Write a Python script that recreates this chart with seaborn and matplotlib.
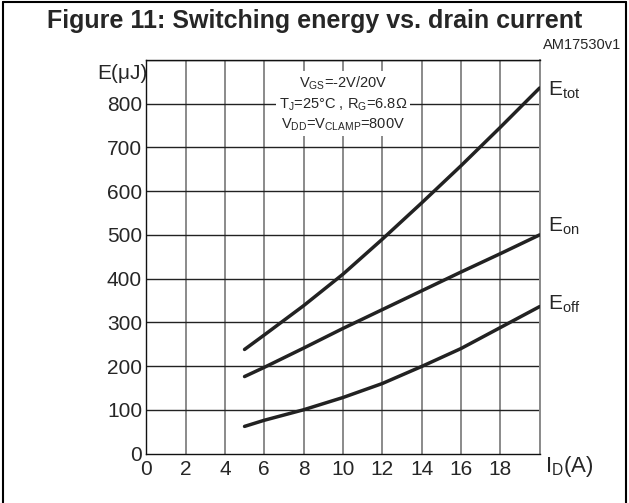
import matplotlib
matplotlib.use("Agg")
import matplotlib.pyplot as plt
import seaborn as sns
import pandas as pd
from matplotlib.lines import Line2D

# values
drain_current = [5, 6, 8, 10, 12, 14, 16, 18, 20]
e_tot = [238, 271, 338, 410, 490, 573, 658, 746, 836]
e_on = [176, 197, 241, 286, 329, 372, 415, 457, 500]
e_off = [62, 76, 100, 128, 160, 199, 240, 288, 336]
x_ticks = [0, 2, 4, 6, 8, 10, 12, 14, 16, 18]
y_ticks = [0, 100, 200, 300, 400, 500, 600, 700, 800]

sns.set_style("white")
plt.rcParams["font.family"] = ["Liberation Sans", "DejaVu Sans"]

df = pd.DataFrame({
    "ID": drain_current * 3,
    "E": e_tot + e_on + e_off,
    "curve": ["tot"] * 9 + ["on"] * 9 + ["off"] * 9,
})

fig = plt.figure(figsize=(6.29, 5.03), dpi=100)
ax = fig.add_axes([0.2324, 0.0984, 0.6255, 0.7823])

sns.lineplot(data=df, x="ID", y="E", units="curve", estimator=None,
             color="#222222", linewidth=2.5, ax=ax, legend=False, zorder=5)

ax.set_xlim(0, 20)
ax.set_ylim(0, 900)
ax.set_xticks(x_ticks)
ax.set_yticks(y_ticks)
ax.set_xticklabels([str(v) for v in x_ticks], fontsize=15)
ax.set_yticklabels([str(v) for v in y_ticks], fontsize=15)
ax.tick_params(axis="y", length=0, pad=3)
ax.tick_params(axis="x", length=0, pad=5)
ax.set_xlabel("")
ax.set_ylabel("")

for v in range(2, 21, 2):
    ax.axvline(v, color="#8a8a8a", linewidth=1.4, zorder=1)
for v in range(100, 901, 100):
    ax.axhline(v, color="#222222", linewidth=1.0, zorder=1)

for side in ["left", "bottom", "top"]:
    ax.spines[side].set_color("#111111")
    ax.spines[side].set_linewidth(1.0)
ax.spines["right"].set_color("#8a8a8a")
ax.spines["right"].set_linewidth(1.4)

# curve labels
ax.text(20.45, 830, r"E$_{\mathregular{tot}}$", fontsize=15, va="center", ha="left")
ax.text(20.45, 520, r"E$_{\mathregular{on}}$", fontsize=15, va="center", ha="left")
ax.text(20.45, 342, r"E$_{\mathregular{off}}$", fontsize=15, va="center", ha="left")

# conditions box
cond = ("V$_{\\mathregular{GS}}$=-2V/20V\n"
        "T$_{\\mathregular{J}}$=25°C , R$_{\\mathregular{G}}$=6.8Ω\n"
        "V$_{\\mathregular{DD}}$=V$_{\\mathregular{CLAMP}}$=800V")
ax.text(10, 800, cond, fontsize=10.5, ha="center", va="center",
        linespacing=1.35, zorder=6,
        bbox=dict(facecolor="white", edgecolor="none", pad=2))

# axis labels
fig.text(0.234, 0.853, "E(μJ)", fontsize=15, ha="right", va="center")
fig.text(0.866, 0.073, r"I$_{\mathregular{D}}$(A)", fontsize=16, ha="left", va="center")

# title and code
fig.text(0.5, 0.958, "Figure 11: Switching energy vs. drain current",
         fontsize=18, fontweight="bold", ha="center", va="center")
fig.text(0.987, 0.91, "AM17530v1", fontsize=10.5, ha="right", va="center")

# outer frame (no bottom edge)
fig.add_artist(Line2D([0.004, 0.004], [0.0, 0.996], color="black", linewidth=1.5,
                      transform=fig.transFigure))
fig.add_artist(Line2D([0.996, 0.996], [0.0, 0.996], color="black", linewidth=1.5,
                      transform=fig.transFigure))
fig.add_artist(Line2D([0.004, 0.996], [0.996, 0.996], color="black", linewidth=1.5,
                      transform=fig.transFigure))

fig.savefig("out.png", dpi=100)
